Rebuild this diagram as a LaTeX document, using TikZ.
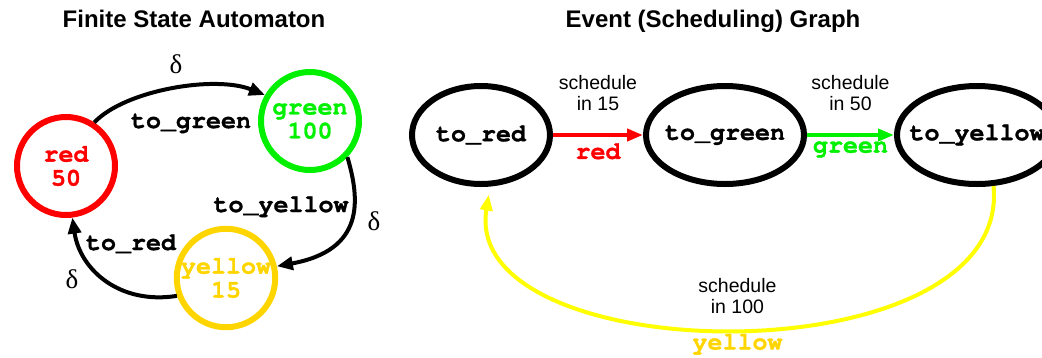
\documentclass[tikz,border=0pt]{standalone}
\usepackage{fontspec}
\setmainfont{Liberation Sans}
\newfontfamily\cour{TeX Gyre Cursor}[BoldFeatures={FakeBold=1.2}]
\newfontfamily\symserif{Liberation Serif}
\usetikzlibrary{positioning,arrows.meta,shapes.geometric}
\definecolor{fsmred}{RGB}{255,0,0}
\definecolor{fsmgreen}{RGB}{0,240,0}
\definecolor{fsmgold}{RGB}{255,213,0}
\definecolor{evyellow}{RGB}{255,255,0}
% zero-width text, so the ellipse keeps its own size
\newcommand\evname[1]{\makebox[0pt]{#1}}

\begin{document}
\begin{tikzpicture}[x=1pt, y=-1pt,
  title/.style={font=\bfseries\fontsize{24}{24}\selectfont, anchor=base},
  state/.style={circle, draw, line width=6pt, minimum size=98pt, inner sep=0pt, align=center,
    font=\cour\bfseries\fontsize{25}{24}\selectfont},
  event/.style={ellipse, draw, line width=6pt, minimum height=98pt, inner sep=0pt,
    font=\cour\bfseries\fontsize{25}{25}\selectfont},
  lbl/.style={font=\cour\bfseries\fontsize{25}{25}\selectfont},
  dlt/.style={font=\symserif\fontsize{27}{27}\selectfont, anchor=base},
  sched/.style={align=center, text=black, font=\fontsize{19.5}{21}\selectfont},
  trans/.style={-{Triangle[length=16pt,width=13pt]}, line width=4pt},
  flow/.style={-{Triangle[length=16pt,width=12pt]}, line width=4pt}
]
\useasboundingbox (0,0) rectangle (1042,357);

% finite state automaton
\node[title] (fsmtitle) at (194,27) {Finite State Automaton};
\node[state, draw=fsmred, text=fsmred] (red) at (66,166) {red\\50};
\node[state, draw=fsmgreen, text=fsmgreen] (green) at (310,121) {green\\100};
\node[state, draw=fsmgold, text=fsmgold] (yellow) at (226,278) {yellow\\15};

\draw[trans] (red.57) .. controls (125,90) and (215,75) .. (green.150);
\draw[trans] (green.-44) .. controls (360,200) and (365,250) .. (yellow.13);
\draw[trans] (yellow.200) .. controls (120,305) and (80,270) .. (red.-83);

\node[lbl, anchor=base] (lgreen) at (191,128) {to\_green};
\node[lbl, anchor=base] (lyellow) at (281,212) {to\_yellow};
\node[lbl, anchor=base] (lred) at (131,250) {to\_red};
\node[dlt] (dgreen) at (176,73) {δ};
\node[dlt] (dyellow) at (374,230) {δ};
\node[dlt] (dred) at (72,288) {δ};

% event graph
\node[title] (evtitle) at (713,27) {Event (Scheduling) Graph};
\node[event, minimum width=138pt] (tored) at (481,135) {\evname{to\_red}};
\node[event, minimum width=158pt] (togreen) at (725,135) {\evname{to\_green}};
\node[event, minimum width=160pt] (toyellow) at (977,135) {\evname{to\_yellow}};

\draw[flow, fsmred] (tored) -- node[above=19pt, sched] {schedule\\in 15}
  node[below=3pt, lbl] {red} (togreen);
\draw[flow, fsmgreen] (togreen) -- node[above=19pt, sched] {schedule\\in 50}
  node[below=1pt, lbl] {green} (toyellow);
\draw[flow, evyellow, shorten >=8pt] (toyellow.-72) .. controls (1012,380) and (460,372) .. (tored.-80)
  node[pos=.5, above=10pt, sched] {schedule\\in 100}
  node[pos=.5, below=0pt, lbl, text=fsmgold] {yellow};
\end{tikzpicture}
\end{document}
